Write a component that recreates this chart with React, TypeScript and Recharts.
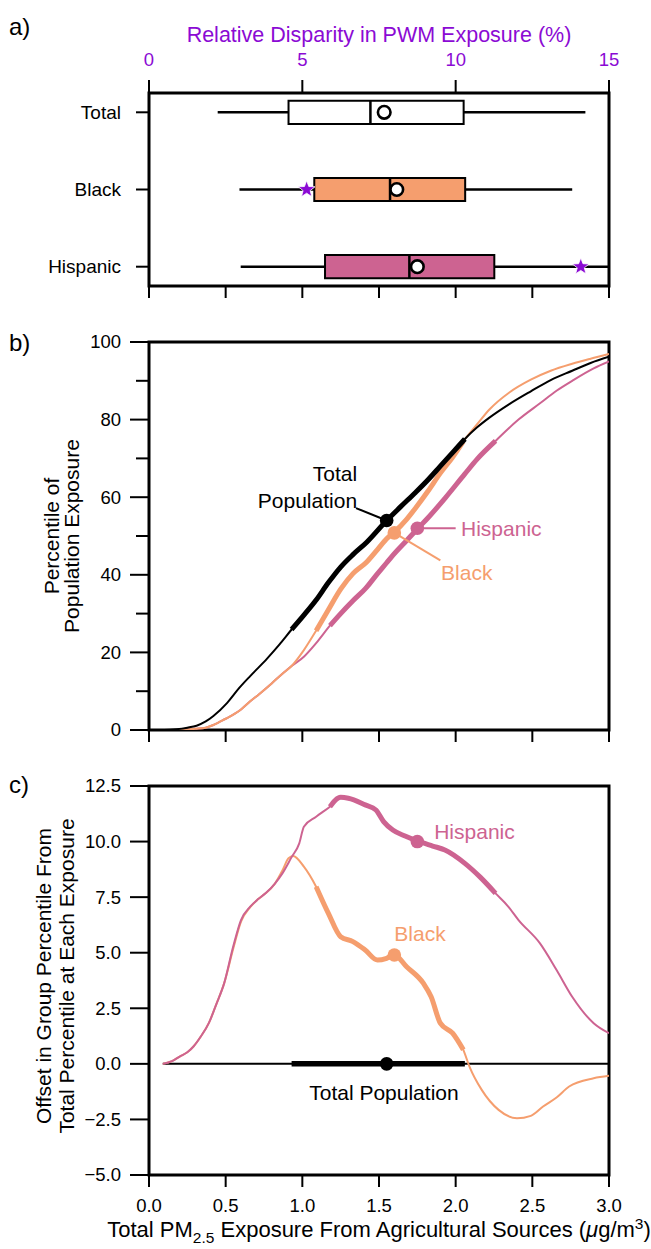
import React from 'react';
import { ComposedChart, XAxis, YAxis, Line, Scatter, ReferenceArea, ReferenceLine } from 'recharts';

const FONT = '"Liberation Sans", Arial, Helvetica, sans-serif';
const ORANGE = '#F59E6E';
const PINK = '#CD6391';
const PURPLE = '#8B0AD4';

// ---------------- panel a: relative disparity box plots ----------------
const groupNames = ['Total', 'Black', 'Hispanic'];
const groupRows = [0, 1, 2];
const whiskerLow = [2.24, 2.95, 2.99];
const quart1 = [4.55, 5.39, 5.74];
const medians = [7.22, 7.86, 8.49];
const means = [7.67, 8.08, 8.75];
const quart3 = [10.26, 10.31, 11.26];
const whiskerHigh = [14.23, 13.8, 15.0];
const boxFill = ['#FFFFFF', ORANGE, PINK];
const starX = [5.14, 14.08];
const starRow = [1, 2];
const disparityTicks = [0, 5, 10, 15];
const disparityMinorTicks = [0, 2.5, 5, 7.5, 10, 12.5, 15];

// ---------------- panel b: cumulative distributions ----------------
const totalCdf: [number, number][] = [
  [0, 0], [0.1, 0], [0.18, 0.2], [0.25, 0.6], [0.31, 1.1], [0.37, 2.2], [0.42, 3.6], [0.51, 7.0],
  [0.59, 10.9], [0.66, 13.9], [0.77, 18.4], [0.85, 22.0], [0.93, 25.9], [1.01, 29.6], [1.09, 33.5],
  [1.17, 38.0], [1.25, 42.0], [1.33, 45.2], [1.42, 48.4], [1.55, 54.0], [1.64, 57.5], [1.74, 61.3],
  [1.82, 64.5], [1.9, 68.0], [1.98, 71.5], [2.06, 75.0], [2.14, 78.0], [2.22, 80.5], [2.35, 84.0],
  [2.49, 87.3], [2.62, 90.2], [2.76, 92.6], [2.88, 94.6], [3.0, 96.2],
];
const blackCdf: [number, number][] = [
  [0, 0], [0.2, 0], [0.25, 0.1], [0.3, 0.3], [0.37, 0.6], [0.42, 1.3], [0.5, 2.9], [0.56, 4.2],
  [0.6, 5.3], [0.66, 7.4], [0.72, 9.3], [0.8, 12.0], [0.87, 14.5], [0.93, 16.5], [1.01, 20.6],
  [1.09, 25.6], [1.17, 31.0], [1.25, 36.3], [1.33, 40.3], [1.42, 43.3], [1.49, 46.5], [1.55, 49.3],
  [1.6, 51.0], [1.68, 54.3], [1.74, 57.3], [1.82, 61.6], [1.9, 66.2], [1.98, 70.3], [2.05, 74.4],
  [2.14, 78.8], [2.22, 82.6], [2.35, 87.0], [2.49, 90.3], [2.62, 92.6], [2.76, 94.4], [2.88, 95.7],
  [3.0, 96.9],
];
const hispanicCdf: [number, number][] = [
  [0, 0], [0.2, 0], [0.25, 0.1], [0.3, 0.3], [0.37, 0.6], [0.42, 1.3], [0.5, 2.9], [0.56, 4.2],
  [0.6, 5.3], [0.66, 7.4], [0.72, 9.3], [0.8, 12.0], [0.87, 14.5], [0.93, 16.5], [1.01, 18.9],
  [1.09, 22.4], [1.18, 26.9], [1.25, 30.0], [1.33, 33.3], [1.42, 36.8], [1.48, 39.8], [1.55, 43.1],
  [1.59, 45.0], [1.67, 48.4], [1.75, 51.8], [1.82, 54.7], [1.93, 59.7], [2.06, 66.0], [2.14, 69.8],
  [2.26, 74.5], [2.41, 80.0], [2.55, 84.2], [2.66, 87.5], [2.76, 90.0], [2.9, 93.2], [3.0, 95.0],
];

// interquartile exposure ranges (drawn thick)
const totalIqr: [number, number] = [0.93, 2.06];
const blackIqr: [number, number] = [1.09, 2.05];
const hispanicIqr: [number, number] = [1.18, 2.26];

// population-weighted mean exposures and values at them
const meanExposure = [1.55, 1.6, 1.75];
const meanPercentile = [54.0, 50.8, 52.0];
const meanOffset = [0, 4.9, 10.0];

// ---------------- panel c: offsets from total percentile ----------------
const totalOffset: [number, number][] = [[0.09, 0], [0.93, 0], [1.55, 0], [2.06, 0], [3.0, 0]];
const blackOffset: [number, number][] = [
  [0.09, 0], [0.15, 0.12], [0.2, 0.33], [0.25, 0.52], [0.29, 0.78], [0.34, 1.25], [0.39, 1.83],
  [0.44, 2.7], [0.49, 3.62], [0.55, 5.2], [0.6, 6.4], [0.66, 7.05], [0.71, 7.4], [0.76, 7.67],
  [0.82, 8.1], [0.87, 8.7], [0.91, 9.25], [0.94, 9.35], [1.01, 8.87], [1.09, 7.97], [1.17, 6.77],
  [1.25, 5.72], [1.33, 5.5], [1.41, 5.12], [1.49, 4.67], [1.55, 4.75], [1.6, 4.9], [1.68, 4.37],
  [1.79, 3.62], [1.84, 3.02], [1.9, 1.83], [1.98, 1.38], [2.05, 0.63], [2.09, -0.12], [2.17, -1.17],
  [2.28, -2.07], [2.4, -2.45], [2.49, -2.34], [2.57, -1.92], [2.66, -1.5], [2.74, -1.02], [2.9, -0.65],
  [3.0, -0.54],
];
const hispanicOffset: [number, number][] = [
  [0.09, 0], [0.15, 0.12], [0.2, 0.33], [0.25, 0.52], [0.29, 0.78], [0.34, 1.25], [0.39, 1.83],
  [0.44, 2.7], [0.49, 3.62], [0.55, 5.3], [0.6, 6.47], [0.66, 7.07], [0.71, 7.4], [0.76, 7.67],
  [0.82, 8.1], [0.87, 8.57], [0.93, 9.3], [0.98, 9.92], [1.01, 10.67], [1.09, 11.12], [1.18, 11.57],
  [1.25, 11.99], [1.3, 11.95], [1.41, 11.65], [1.48, 11.42], [1.53, 10.9], [1.59, 10.52], [1.67, 10.25],
  [1.75, 10.03], [1.85, 9.8], [1.93, 9.62], [2.06, 9.02], [2.16, 8.4], [2.26, 7.67], [2.34, 7.1],
  [2.41, 6.47], [2.55, 5.42], [2.66, 4.2], [2.76, 3.02], [2.9, 1.83], [3.0, 1.38],
];

const exposureTicks = [0, 0.5, 1, 1.5, 2, 2.5, 3];
const percentileTicks = [0, 10, 20, 30, 40, 50, 60, 70, 80, 90, 100];
const offsetTicks = [-5, -2.5, 0, 2.5, 5, 7.5, 10, 12.5];

// annotation texts placed at data coordinates
const bTotalLabel = [
  { x: 1.357, y: 66.1, text: 'Total' },
  { x: 1.357, y: 59.1, text: 'Population' },
];
const bHispanicLabel = [{ x: 2.035, y: 51.9, text: 'Hispanic' }];
const bBlackLabel = [{ x: 1.905, y: 40.6, text: 'Black' }];
const cHispanicLabel = [{ x: 1.86, y: 10.45, text: 'Hispanic' }];
const cBlackLabel = [{ x: 1.6, y: 5.87, text: 'Black' }];
const cTotalLabel = [{ x: 1.045, y: -1.29, text: 'Total Population' }];

// ---------------- helpers ----------------
const BOX_HALF = 0.15;
const toPts = (arr: [number, number][]) => arr.map(([x, y]) => ({ x, y }));
const within = (arr: [number, number][], r: [number, number]) =>
  toPts(arr.filter(([x]) => x >= r[0] - 1e-9 && x <= r[1] + 1e-9));
const fmtOffset = (v: number) => (v < 0 ? '\u2212' + Math.abs(v).toFixed(1) : v.toFixed(1));

const TopTick = (p: any) => (
  <g>
    <line x1={p.x} y1={p.y - 13} x2={p.x} y2={p.y} stroke="#000" strokeWidth={2} />
    <text x={p.x} y={p.y - 27} textAnchor="middle" fontSize={18.5} fontFamily={FONT} fill={PURPLE}>
      {p.payload.value}
    </text>
  </g>
);
const PlainBottomTick = (p: any) => (
  <line x1={p.x} y1={p.y} x2={p.x} y2={p.y + 12} stroke="#000" strokeWidth={2} />
);
const CategoryTick = (p: any) => (
  <g>
    <line x1={p.x - 13} y1={p.y} x2={p.x} y2={p.y} stroke="#000" strokeWidth={2} />
    <text x={p.x - 28} y={p.y} dy="0.35em" textAnchor="end" fontSize={19} fontFamily={FONT} fill="#000">
      {groupNames[p.payload.value]}
    </text>
  </g>
);
const PercentileTick = (p: any) => {
  const major = p.payload.value % 20 === 0;
  return (
    <g>
      <line x1={p.x - (major ? 19 : 13)} y1={p.y} x2={p.x} y2={p.y} stroke="#000" strokeWidth={2} />
      {major && (
        <text x={p.x - 28} y={p.y} dy="0.35em" textAnchor="end" fontSize={18.5} fontFamily={FONT} fill="#000">
          {p.payload.value}
        </text>
      )}
    </g>
  );
};
const OffsetTick = (p: any) => (
  <g>
    <line x1={p.x - 19} y1={p.y} x2={p.x} y2={p.y} stroke="#000" strokeWidth={2} />
    <text x={p.x - 28} y={p.y} dy="0.35em" textAnchor="end" fontSize={18.5} fontFamily={FONT} fill="#000">
      {fmtOffset(p.payload.value)}
    </text>
  </g>
);
const ExposureTick = (p: any) => (
  <g>
    <line x1={p.x} y1={p.y} x2={p.x} y2={p.y + 12} stroke="#000" strokeWidth={2} />
    <text x={p.x} y={p.y + 37} textAnchor="middle" fontSize={18.5} fontFamily={FONT} fill="#000">
      {p.payload.value.toFixed(1)}
    </text>
  </g>
);

const dotShape = (color: string, r: number) => (p: any) => (
  <circle cx={p.cx} cy={p.cy} r={r} fill={color} />
);
const meanShape = (p: any) => (
  <circle cx={p.cx} cy={p.cy} r={6.3} fill="#fff" stroke="#000" strokeWidth={2.6} />
);
const starShape = (p: any) => {
  const pts: string[] = [];
  for (let k = 0; k < 10; k++) {
    const rr = k % 2 === 0 ? 8.8 : 3.7;
    const a = -Math.PI / 2 + (k * Math.PI) / 5;
    pts.push(`${p.cx + rr * Math.cos(a)},${p.cy + rr * Math.sin(a)}`);
  }
  return <polygon points={pts.join(' ')} fill={PURPLE} stroke="#fff" strokeWidth={0.8} />;
};
const textShape = (color: string, anchor: 'start' | 'end' | 'middle') => (p: any) => (
  <text x={p.cx} y={p.cy} dy="0.35em" textAnchor={anchor} fontSize={21} fontFamily={FONT} fill={color}>
    {p.payload.text}
  </text>
);

const noAxisLine = { tickSize: 0, tickMargin: 0, tickLine: false, axisLine: false, interval: 0 as const, allowDataOverflow: true };

export default function App() {
  const seriesColor = ['#000', ORANGE, PINK];
  return (
    <div style={{ position: 'relative', width: 651, height: 1249, background: '#fff', overflow: 'hidden' }}>
      <style>{'body{margin:0;background:#fff}'}</style>

      {/* panel a */}
      <div style={{ position: 'absolute', left: 0, top: 0 }}>
        <ComposedChart width={651} height={320} margin={{ top: 33, right: 42, bottom: 14, left: 9 }}>
          <XAxis xAxisId="top" orientation="top" type="number" dataKey="x" domain={[0, 15]} ticks={disparityTicks}
            height={60} tick={TopTick} {...noAxisLine} />
          <XAxis xAxisId="bottom" orientation="bottom" type="number" dataKey="x" domain={[0, 15]}
            ticks={disparityMinorTicks} height={20} tick={PlainBottomTick} {...noAxisLine} />
          <YAxis yAxisId="g" type="number" dataKey="y" domain={[-0.25, 2.25]} reversed ticks={groupRows}
            width={140} tick={CategoryTick} {...noAxisLine} />
          {groupRows.map((i) => (
            <ReferenceLine key={'wl' + i} xAxisId="top" yAxisId="g"
              segment={[{ x: whiskerLow[i], y: i }, { x: quart1[i], y: i }]} stroke="#000" strokeWidth={2.5} />
          ))}
          {groupRows.map((i) => (
            <ReferenceLine key={'wh' + i} xAxisId="top" yAxisId="g"
              segment={[{ x: quart3[i], y: i }, { x: whiskerHigh[i], y: i }]} stroke="#000" strokeWidth={2.5} />
          ))}
          {groupRows.map((i) => (
            <ReferenceArea key={'box' + i} xAxisId="top" yAxisId="g" x1={quart1[i]} x2={quart3[i]}
              y1={i - BOX_HALF} y2={i + BOX_HALF} fill={boxFill[i]} fillOpacity={1} stroke="#000" strokeWidth={2} />
          ))}
          {groupRows.map((i) => (
            <ReferenceLine key={'med' + i} xAxisId="top" yAxisId="g"
              segment={[{ x: medians[i], y: i - BOX_HALF }, { x: medians[i], y: i + BOX_HALF }]}
              stroke="#000" strokeWidth={2.5} />
          ))}
          <ReferenceArea xAxisId="top" yAxisId="g" x1={0} x2={15} y1={-0.25} y2={2.25} fill="none"
            stroke="#000" strokeWidth={3} />
          <Scatter xAxisId="top" yAxisId="g" data={groupRows.map((i) => ({ x: means[i], y: i }))}
            shape={meanShape} isAnimationActive={false} />
          <Scatter xAxisId="top" yAxisId="g" data={starX.map((x, k) => ({ x, y: starRow[k] }))}
            shape={starShape} isAnimationActive={false} />
        </ComposedChart>
      </div>

      {/* panel b */}
      <div style={{ position: 'absolute', left: 0, top: 320 }}>
        <ComposedChart width={651} height={440} margin={{ top: 22, right: 42, bottom: 10, left: 9 }}>
          <XAxis type="number" dataKey="x" domain={[0, 3]} ticks={exposureTicks} height={20}
            tick={PlainBottomTick} {...noAxisLine} />
          <YAxis type="number" dataKey="y" domain={[0, 100]} ticks={percentileTicks} width={140}
            tick={PercentileTick} {...noAxisLine} />
          <Line data={toPts(hispanicCdf)} dataKey="y" type="monotone" stroke={PINK} strokeWidth={2} dot={false} isAnimationActive={false} />
          <Line data={within(hispanicCdf, hispanicIqr)} dataKey="y" type="monotone" stroke={PINK} strokeWidth={5} dot={false} isAnimationActive={false} />
          <Line data={toPts(blackCdf)} dataKey="y" type="monotone" stroke={ORANGE} strokeWidth={2} dot={false} isAnimationActive={false} />
          <Line data={within(blackCdf, blackIqr)} dataKey="y" type="monotone" stroke={ORANGE} strokeWidth={5} dot={false} isAnimationActive={false} />
          <Line data={toPts(totalCdf)} dataKey="y" type="monotone" stroke="#000" strokeWidth={2} dot={false} isAnimationActive={false} />
          <Line data={within(totalCdf, totalIqr)} dataKey="y" type="monotone" stroke="#000" strokeWidth={5} dot={false} isAnimationActive={false} />
          <ReferenceLine segment={[{ x: 1.35, y: 57.2 }, { x: meanExposure[0], y: meanPercentile[0] }]} stroke="#000" strokeWidth={2} />
          <ReferenceLine segment={[{ x: meanExposure[2], y: meanPercentile[2] }, { x: 2.0, y: meanPercentile[2] }]} stroke={PINK} strokeWidth={2} />
          <ReferenceLine segment={[{ x: meanExposure[1], y: meanPercentile[1] }, { x: 1.9, y: 43.7 }]} stroke={ORANGE} strokeWidth={2} />
          <ReferenceArea x1={0} x2={3} y1={0} y2={100} fill="none" stroke="#000" strokeWidth={3} />
          {[2, 1, 0].map((i) => (
            <Scatter key={'mb' + i} data={[{ x: meanExposure[i], y: meanPercentile[i] }]}
              shape={dotShape(seriesColor[i], 6.8)} isAnimationActive={false} />
          ))}
          <Scatter data={bTotalLabel} shape={textShape('#000', 'end')} isAnimationActive={false} />
          <Scatter data={bHispanicLabel} shape={textShape(PINK, 'start')} isAnimationActive={false} />
          <Scatter data={bBlackLabel} shape={textShape(ORANGE, 'start')} isAnimationActive={false} />
        </ComposedChart>
      </div>

      {/* panel c */}
      <div style={{ position: 'absolute', left: 0, top: 760 }}>
        <ComposedChart width={651} height={489} margin={{ top: 26, right: 42, bottom: 24, left: 9 }}>
          <XAxis type="number" dataKey="x" domain={[0, 3]} ticks={exposureTicks} height={50}
            tick={ExposureTick} {...noAxisLine} />
          <YAxis type="number" dataKey="y" domain={[-5, 12.5]} ticks={offsetTicks} width={140}
            tick={OffsetTick} {...noAxisLine} />
          <Line data={toPts(totalOffset)} dataKey="y" type="linear" stroke="#000" strokeWidth={2} dot={false} isAnimationActive={false} />
          <Line data={within(totalOffset, totalIqr)} dataKey="y" type="linear" stroke="#000" strokeWidth={5.5} dot={false} isAnimationActive={false} />
          <Line data={toPts(blackOffset)} dataKey="y" type="monotone" stroke={ORANGE} strokeWidth={2} dot={false} isAnimationActive={false} />
          <Line data={within(blackOffset, blackIqr)} dataKey="y" type="monotone" stroke={ORANGE} strokeWidth={5} dot={false} isAnimationActive={false} />
          <Line data={toPts(hispanicOffset)} dataKey="y" type="monotone" stroke={PINK} strokeWidth={2} dot={false} isAnimationActive={false} />
          <Line data={within(hispanicOffset, hispanicIqr)} dataKey="y" type="monotone" stroke={PINK} strokeWidth={5} dot={false} isAnimationActive={false} />
          <ReferenceArea x1={0} x2={3} y1={-5} y2={12.5} fill="none" stroke="#000" strokeWidth={3} />
          {[2, 1, 0].map((i) => (
            <Scatter key={'mc' + i} data={[{ x: meanExposure[i], y: meanOffset[i] }]}
              shape={dotShape(seriesColor[i], 6.8)} isAnimationActive={false} />
          ))}
          <Scatter data={cHispanicLabel} shape={textShape(PINK, 'start')} isAnimationActive={false} />
          <Scatter data={cBlackLabel} shape={textShape(ORANGE, 'start')} isAnimationActive={false} />
          <Scatter data={cTotalLabel} shape={textShape('#000', 'start')} isAnimationActive={false} />
        </ComposedChart>
      </div>

      {/* titles and panel letters */}
      <svg width={651} height={1249} style={{ position: 'absolute', left: 0, top: 0, pointerEvents: 'none' }}
        fontFamily={FONT}>
        <text x={9} y={35} fontSize={24} fill="#000">a)</text>
        <text x={9} y={351} fontSize={24} fill="#000">b)</text>
        <text x={9} y={793} fontSize={24} fill="#000">c)</text>
        <text x={379} y={42} fontSize={21.5} textAnchor="middle" fill={PURPLE}>
          Relative Disparity in PWM Exposure (%)
        </text>
        <text transform="translate(59,536) rotate(-90)" fontSize={21} textAnchor="middle" fill="#000">Percentile of</text>
        <text transform="translate(79,536) rotate(-90)" fontSize={21} textAnchor="middle" fill="#000">Population Exposure</text>
        <text transform="translate(50.5,976) rotate(-90)" fontSize={21} textAnchor="middle" fill="#000">
          Offset in Group Percentile From
        </text>
        <text transform="translate(74,976) rotate(-90)" fontSize={21} textAnchor="middle" fill="#000">
          Total Percentile at Each Exposure
        </text>
        <text x={379} y={1237} fontSize={22} textAnchor="middle" fill="#000">
          Total PM<tspan fontSize={15.5} dy={6}>2.5</tspan>
          <tspan dy={-6}> Exposure From Agricultural Sources (</tspan>
          <tspan fontStyle="italic">μ</tspan>g/m<tspan fontSize={15.5} dy={-8}>3</tspan>
          <tspan dy={8}>)</tspan>
        </text>
      </svg>
    </div>
  );
}
